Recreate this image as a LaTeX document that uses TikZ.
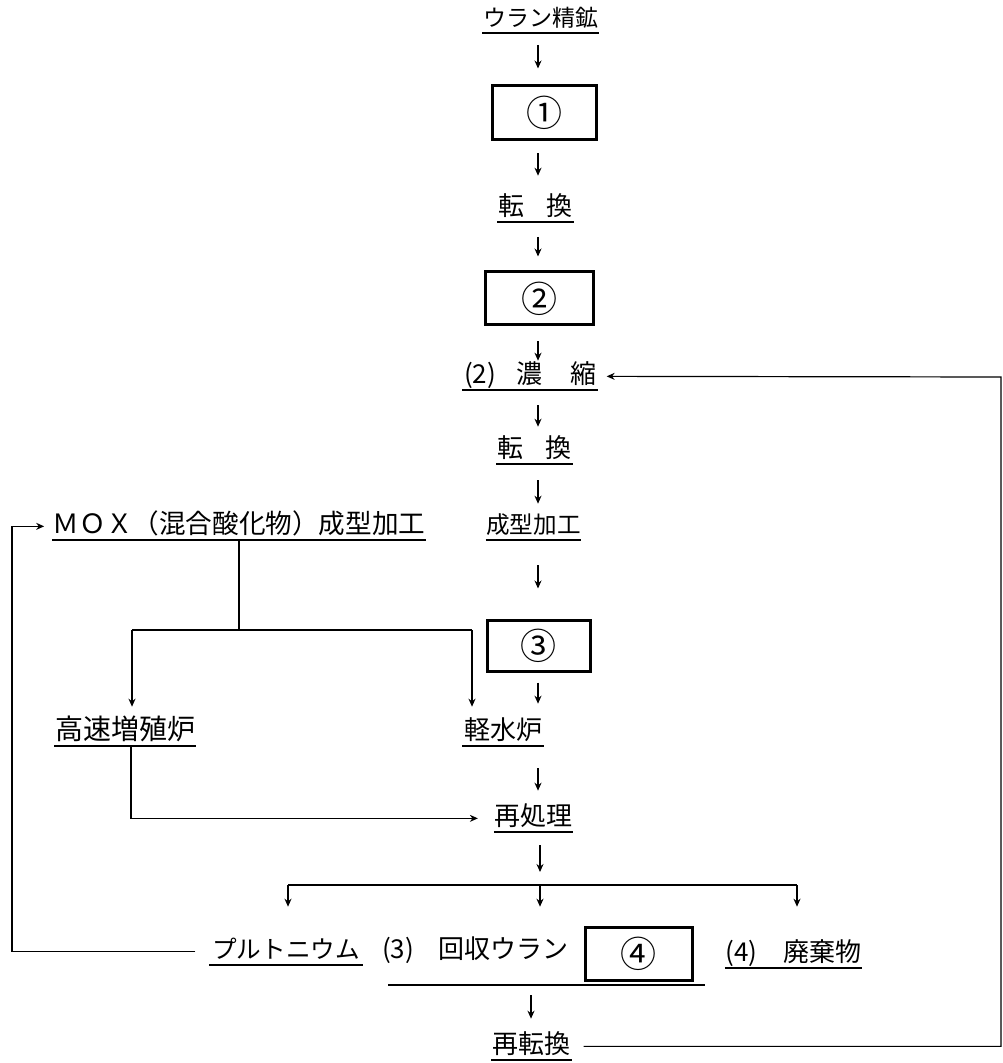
\documentclass[tikz,border=0pt]{standalone}
\usepackage{fontspec}
\usepackage{tikz}
\usetikzlibrary{arrows.meta, positioning}
\setmainfont{Noto Sans CJK JP}

\begin{document}
\begin{tikzpicture}[x=0.5pt, y=-0.5pt, >={Stealth[length=4pt, width=3.5pt]}, line width=0.65pt,
    lbl/.style={inner xsep=0pt, inner ysep=1pt, text height=9pt, text depth=2pt, anchor=south, font=\fontsize{13}{15}\selectfont},
    ul/.style={lbl, append after command={(\tikzlastnode.south west) edge[line width=1.3pt] (\tikzlastnode.south east)}},
    stepbox/.style={draw, line width=1.5pt, inner sep=0pt, font=\fontsize{18}{20}\selectfont},
    flow/.style={->, line width=0.6pt}]
    \useasboundingbox (0,0) rectangle (1002,1063);

    % Nodes
    \node[ul, minimum width=57.5pt, font=\fontsize{11.5}{14}\selectfont] (ore) at (540.5,33) {ウラン精鉱};
    \node[stepbox, minimum width=52pt, minimum height=27pt] (b1) at (544,113) {①};
    \node[ul, minimum width=37.5pt] (conv1) at (535.5,222) {転\hspace{11.5pt}換};
    \node[stepbox, minimum width=54pt, minimum height=26.5pt] (b2) at (539,298.5) {②};
    \node[ul, minimum width=67pt] (enr) at (530,390) {(2)\hspace{10pt}濃\hspace{14pt}縮};
    \node[ul, minimum width=37.5pt] (conv2) at (534.5,464) {転\hspace{11.5pt}換};
    \node[ul, minimum width=46.5pt, font=\fontsize{11.8}{14}\selectfont] (fab) at (533.5,540) {成型加工};
    \node[stepbox, minimum width=51.5pt, minimum height=25.5pt] (b3) at (538.5,645.5) {③};
    \node[ul, minimum width=40pt] (lwr) at (503,746) {軽水炉};
    \node[ul, minimum width=38.5pt] (rep) at (533.5,832) {再処理};

    \node[ul, minimum width=186pt, font=\fontsize{13.3}{15}\selectfont] (mox) at (239,540) {ＭＯＸ（混合酸化物）成型加工};
    \node[ul, minimum width=70pt, font=\fontsize{14}{16}\selectfont] (fbr) at (125,746) {高速増殖炉};

    \node[ul, minimum width=76pt, font=\fontsize{12.3}{15}\selectfont] (pu) at (286,965) {プルトニウム};
    \node[lbl] (recu) at (475,965) {(3)\hspace{12pt}回収ウラン};
    \node[stepbox, minimum width=53.5pt, minimum height=26.5pt] (b4) at (638.5,953.5) {④};
    \node[ul, minimum width=66.5pt] (waste) at (793.5,968) {(4)\hspace{13pt}廃棄物};
    \node[ul, minimum width=39.5pt] (reconv) at (531.5,1060) {再転換};

    % Coordinates
    \coordinate (col) at (538,0);
    \coordinate (sl) at (288,885);
    \coordinate (sm) at (540,885);
    \coordinate (sr) at (797,885);
    \coordinate (grpl) at (388,985);
    \coordinate (grpr) at (705,985);
    \coordinate (grpm) at (531,985);
    \coordinate (mxl) at (132,630);
    \coordinate (mxr) at (472,630);
    \coordinate (lp) at (12,0);
    \coordinate (rt) at (1001,377);

    % Arrows
    \foreach \a/\b/\s/\e in {ore/b1/6/8, b1/conv1/6/9.5, conv1/b2/7.5/7, b2/enr/7.5/1, enr/conv2/7.5/5,
        conv2/fab/8/4.5, fab/b3/12.5/15, b3/lwr/5/7.5, lwr/rep/11/7}
        \draw[flow, shorten <=\s pt, shorten >=\e pt] (\a.south -| col) -- (\b.north -| col);
    \draw[flow, shorten <=6.5pt, shorten >=6.5pt] (rep.south -| sm) -- (sm);
    \draw (sl) -- (sr);
    \foreach \c/\n/\e in {sl/pu/15.5, sm/recu/15.5, sr/waste/17}
        \draw[flow, shorten >=\e pt] (\c) -- (\c |- \n.north);
    \draw[line width=1.3pt] (grpl) -- (grpr);
    \draw[flow, shorten <=5pt, shorten >=7pt] (grpm) -- (grpm |- reconv.north);

    % MOX branch
    \draw (mox.south) -- (mox.south |- mxl);
    \draw (mxl) -- (mxr);
    \draw[flow, shorten >=6pt] (mxl) -- (mxl |- fbr.north);
    \draw[flow, shorten >=6pt] (mxr) -- (mxr |- lwr.north);
    \draw[flow] ([xshift=3pt]fbr.south) |- ([xshift=-8pt]rep.west);

    % Return loops
    \draw[flow] ([xshift=-7pt]pu.west) -| (lp |- mox.west) -- ([xshift=-4pt]mox.west);
    \draw[flow] ([xshift=6pt]reconv.east) -| (rt) -- ([xshift=4.5pt]enr.east);
\end{tikzpicture}
\end{document}
